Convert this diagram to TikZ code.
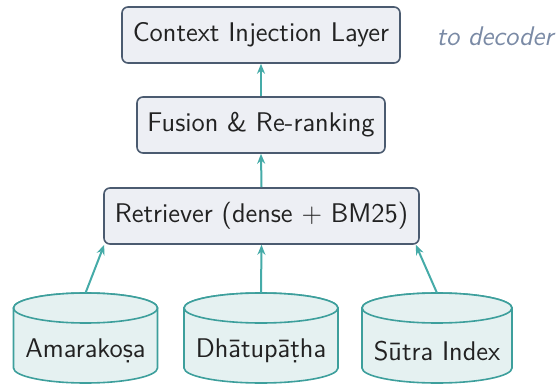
\documentclass[tikz,border=0pt]{standalone}
\usepackage{fontspec}
\usetikzlibrary{arrows.meta}
\definecolor{boxfill}{HTML}{EDEFF4}
\definecolor{boxline}{HTML}{4B5B70}
\definecolor{cylfill}{HTML}{E5F1F1}
\definecolor{cylline}{HTML}{3D9F9C}
\definecolor{flow}{HTML}{45ABA8}
\definecolor{notecol}{HTML}{7A8AA5}
\definecolor{ink}{HTML}{222222}
\tikzset{
  stage/.style={draw=boxline, fill=boxfill, line width=0.8pt, rounded corners=3pt,
    minimum height=28pt, inner sep=0pt, text=ink, font=\sffamily\fontsize{13.5}{16}\selectfont},
  cyltext/.style={inner sep=0pt, text=ink, font=\sffamily\fontsize{13.5}{16}\selectfont},
  flowarrow/.style={draw=flow, line width=1pt, -{Stealth[length=5pt,width=4pt]}},
  cylbody/.style={fill=cylfill, draw=cylline, line width=0.8pt},
}
% database cylinder: name, centre x, half width, label
\newcommand{\dbcyl}[4]{%
  \path[cylbody] ({#2-#3},308) -- ({#2-#3},368)
     arc[start angle=180, end angle=360, x radius={#3*0.5pt}, y radius=7.5pt]
     -- ({#2+#3},308)
     arc[start angle=0, end angle=180, x radius={#3*0.5pt}, y radius=7.5pt] -- cycle;
  \draw[cylbody] (#2,308) ellipse[x radius={#3*0.5pt}, y radius=7.5pt];
  \coordinate (#1-top) at (#2,293);
  \node[cyltext] (#1) at (#2,351) {#4};
}
\begin{document}
\begin{tikzpicture}[x=0.5pt, y=-0.5pt]
  \useasboundingbox (0,0) rectangle (557,385);

  \node[stage, minimum width=139pt] (ctx) at (261,35) {Context Injection Layer};
  \node[inner sep=0pt, text=notecol, font=\sffamily\itshape\fontsize{13.5}{16}\selectfont] (dec) at (495,36) {to decoder};
  \node[stage, minimum width=124pt] (fus) at (261,125) {Fusion \& Re-ranking};
  \node[stage, minimum width=157.5pt] (ret) at (261.5,216) {Retriever (dense + BM25)};

  \dbcyl{amara}{85.5}{72}{Amarakoṣa}
  \dbcyl{dhatu}{261}{77}{Dhātupāṭha}
  \dbcyl{sutra}{437}{75}{Sūtra Index}

  \draw[flowarrow] (fus.north) -- (ctx.south);
  \draw[flowarrow] (ret.north) -- (fus.south);
  \draw[flowarrow] (amara-top) -- ([xshift=0.5pt]ret.south west);
  \draw[flowarrow] (dhatu-top) -- (ret.south);
  \draw[flowarrow] (sutra-top) -- ([xshift=-2pt]ret.south east);
\end{tikzpicture}
\end{document}
